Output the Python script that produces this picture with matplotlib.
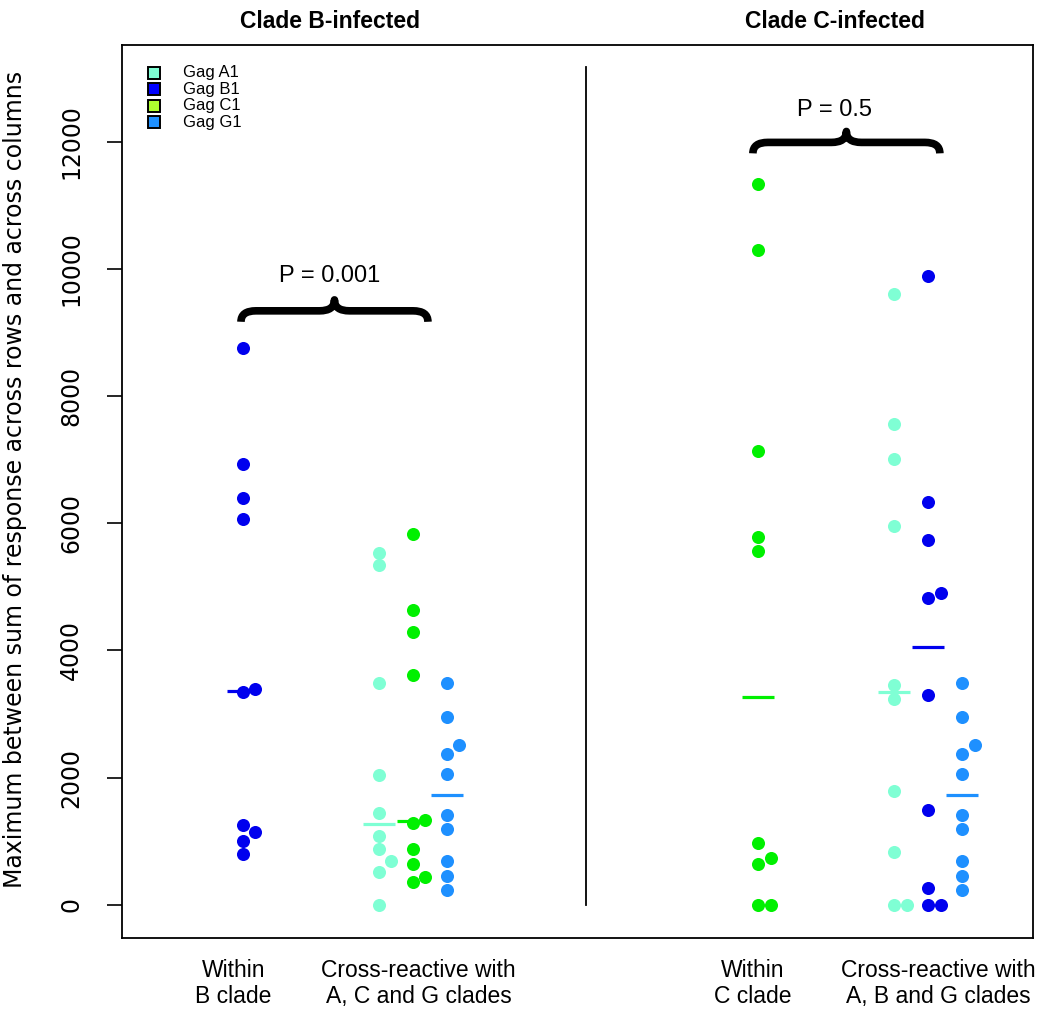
import numpy as np
import matplotlib
matplotlib.use('Agg')
import matplotlib.pyplot as plt
from matplotlib.path import Path
from matplotlib.patches import PathPatch, Rectangle

plt.rcParams['font.family'] = ['Liberation Sans', 'DejaVu Sans']

# values (response sums)
within_B = [8750, 6930, 6400, 6060, 3390, 3350, 1250, 1150, 1000, 800]
cross_B_A1 = [5530, 5340, 3490, 2040, 1445, 1090, 880, 690, 520, 0]
cross_B_C1 = [5830, 4640, 4290, 3620, 1340, 1290, 880, 640, 445, 355]
cross_B_G1 = [3490, 2960, 2510, 2380, 2050, 1420, 1200, 690, 460, 230]

within_C = [11330, 10290, 7140, 5790, 5570, 975, 745, 640, 0, 0]
cross_C_A1 = [9610, 7560, 7010, 5950, 3450, 3240, 1790, 835, 0, 0]
cross_C_B1 = [9880, 6330, 5740, 4900, 4820, 3300, 1490, 260, 0, 0]
cross_C_G1 = [3490, 2960, 2510, 2380, 2050, 1420, 1200, 690, 460, 230]

p_values = ["P = 0.001", "P = 0.5"]
panel_titles = ["Clade B-infected", "Clade C-infected"]
group_labels = ["Within\nB clade", "Cross-reactive with\nA, C and G clades",
                "Within\nC clade", "Cross-reactive with\nA, B and G clades"]
legend_labels = ["Gag A1", "Gag B1", "Gag C1", "Gag G1"]

col_A1 = '#7FFFD4'
col_B1 = '#0000EE'
col_C1 = '#00F000'
col_G1 = '#1E90FF'
legend_colors = ['#7FFFD4', '#0000FF', '#ADFF2F', '#1E90FF']


def jitter(vals, thr=190, dx=0.09):
    """nudge points that sit on top of a lower one to the right"""
    vals = np.asarray(vals, float)
    offs = np.zeros(len(vals))
    last = None
    for i in np.argsort(vals):
        if last is not None and vals[i] - last < thr:
            offs[i] = dx
        else:
            last = vals[i]
    return offs


def draw_column(ax, x, vals, color):
    vals = np.asarray(vals, float)
    ax.plot(x + jitter(vals), vals, 'o', ms=9.4, mfc=color, mec='none', zorder=3)
    med = np.median(vals)
    ax.plot([x - 0.118, x + 0.118], [med, med], color=color, lw=2.3,
            solid_capstyle='butt', zorder=2)


def curly_brace(ax, x0, x1, y, d=172, c=0.11):
    xm = (x0 + x1) / 2
    verts = [(x0, y - d), (x0, y), (x0 + c, y), (xm - c, y), (xm, y), (xm, y + d),
             (xm, y), (xm + c, y), (x1 - c, y), (x1, y), (x1, y - d)]
    codes = [Path.MOVETO, Path.CURVE3, Path.CURVE3, Path.LINETO, Path.CURVE3, Path.CURVE3,
             Path.CURVE3, Path.CURVE3, Path.LINETO, Path.CURVE3, Path.CURVE3]
    ax.add_patch(PathPatch(Path(verts, codes), fill=False, lw=5.5, color='black',
                           capstyle='butt', joinstyle='round', zorder=4))


fig = plt.figure(figsize=(10.5, 10.15), dpi=100)
ax = fig.add_axes([0.1162, 0.0759, 0.8676, 0.8798])

# clade B panel
draw_column(ax, 1.0, within_B, col_B1)
draw_column(ax, 2.0, cross_B_A1, col_A1)
draw_column(ax, 2.25, cross_B_C1, col_C1)
draw_column(ax, 2.5, cross_B_G1, col_G1)

# clade C panel
draw_column(ax, 4.79, within_C, col_C1)
draw_column(ax, 5.79, cross_C_A1, col_A1)
draw_column(ax, 6.04, cross_C_B1, col_B1)
draw_column(ax, 6.29, cross_C_G1, col_G1)

ax.plot([3.52, 3.52], [0, 13180], color='black', lw=1.3)

curly_brace(ax, 0.985, 2.36, 9340)
curly_brace(ax, 4.75, 6.125, 11988)
pfont = ['Liberation Sans Narrow', 'DejaVu Sans Condensed', 'Liberation Sans']
ax.text(1.64, 9794, p_values[0], ha='center', va='baseline', fontsize=17, family=pfont)
ax.text(5.35, 12411, p_values[1], ha='center', va='baseline', fontsize=17, family=pfont)

ax.set_xlim(0.11, 6.81)
ax.set_ylim(-520, 13520)
ax.set_xticks([])
ax.set_yticks(np.arange(0, 12001, 2000))
ax.tick_params(axis='y', length=11, width=1.2, pad=17, labelsize=17)
for lab in ax.get_yticklabels():
    lab.set_rotation(90)
    lab.set_va('center')
    lab.set_family('DejaVu Sans')
for sp in ax.spines.values():
    sp.set_linewidth(1.3)

fig.text(0.014, 0.528, "Maximum between sum of response across rows and across columns",
         rotation=90, ha='center', va='center', fontsize=17, family='DejaVu Sans')

# panel titles and group labels
trans = ax.get_xaxis_transform()
for x, t in zip([1.64, 5.35], panel_titles):
    ax.text(x, 1.019, t, transform=trans, ha='center', va='baseline',
            fontsize=16.5, fontweight='bold')
for x, t in zip([0.93, 2.29, 4.75, 6.11], group_labels):
    ax.text(x, -0.024, t, transform=trans, ha='center', va='top',
            fontsize=16.5, linespacing=1.15)

# legend drawn by hand (small boxed squares)
for i, (lab, col) in enumerate(zip(legend_labels, legend_colors)):
    yy = 1 - (73 - 45 + i * 16.5) / 893
    ax.add_patch(Rectangle((0.029, yy - 0.0067), 0.0132, 0.0134, transform=ax.transAxes,
                           facecolor=col, edgecolor='black', lw=1.4, zorder=5))
    ax.text(0.067, yy, lab, transform=ax.transAxes, ha='left', va='center', fontsize=12)

fig.savefig('out.png', dpi=100)
